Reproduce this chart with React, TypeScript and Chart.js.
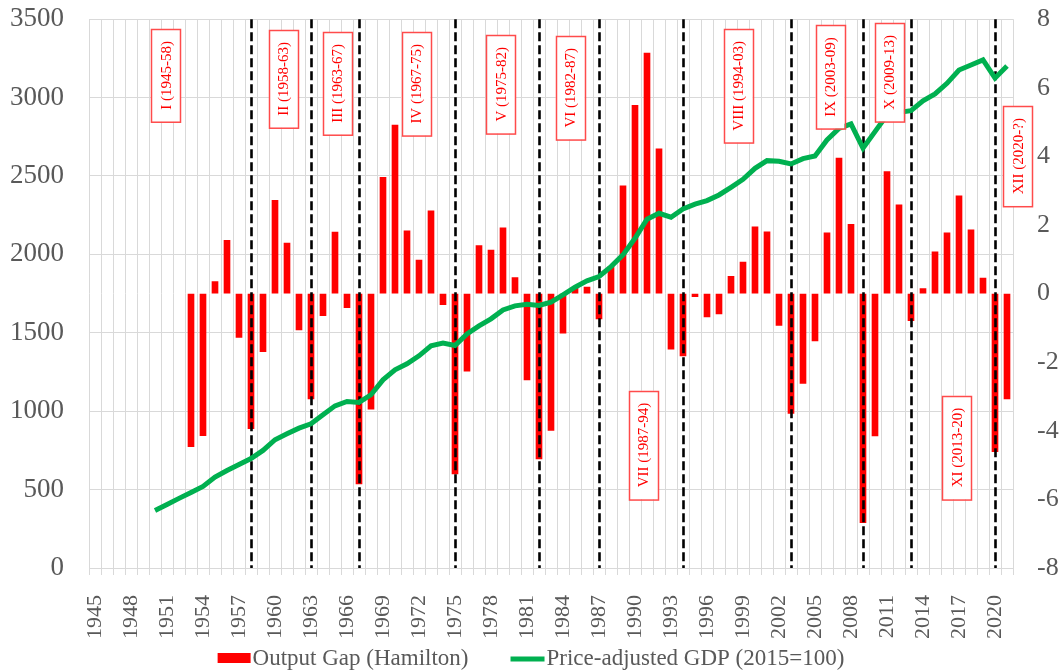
import React, { useEffect, useRef } from 'react';
import { Chart, registerables } from 'chart.js';

Chart.register(...registerables);

const years: string[] = [
  '1945','1946','1947','1948','1949','1950','1951','1952','1953','1954',
  '1955','1956','1957','1958','1959','1960','1961','1962','1963','1964',
  '1965','1966','1967','1968','1969','1970','1971','1972','1973','1974',
  '1975','1976','1977','1978','1979','1980','1981','1982','1983','1984',
  '1985','1986','1987','1988','1989','1990','1991','1992','1993','1994',
  '1995','1996','1997','1998','1999','2000','2001','2002','2003','2004',
  '2005','2006','2007','2008','2009','2010','2011','2012','2013','2014',
  '2015','2016','2017','2018','2019','2020','2021',
];

// Output gap (Hamilton), right axis
const outputGap: (number | null)[] = [
  null, null, null, null, null, null, null, null, -4.46, -4.14,
  0.35, 1.55, -1.28, -3.94, -1.69, 2.72, 1.47, -1.06, -3.07, -0.64,
  1.79, -0.41, -5.55, -3.37, 3.39, 4.91, 1.83, 0.98, 2.41, -0.32,
  -5.26, -2.26, 1.40, 1.27, 1.92, 0.47, -2.52, -4.82, -3.99, -1.15,
  0.17, 0.19, -0.74, 0.79, 3.14, 5.49, 7.01, 4.22, -1.62, -1.82,
  -0.09, -0.68, -0.59, 0.50, 0.92, 1.95, 1.80, -0.93, -3.49, -2.62,
  -1.38, 1.77, 3.95, 2.02, -6.68, -4.15, 3.56, 2.59, -0.79, 0.15,
  1.22, 1.77, 2.85, 1.86, 0.45, -4.61, -3.07,
];

// Price-adjusted GDP (2015=100), left axis
const gdp: (number | null)[] = [
  null, null, null, null, null, 367, 405, 444, 482, 520,
  580, 622, 660, 698, 750, 818, 856, 892, 920, 977,
  1034, 1062, 1056, 1105, 1200, 1264, 1302, 1353, 1417, 1434,
  1419, 1493, 1544, 1589, 1646, 1672, 1682, 1674, 1695, 1742,
  1791, 1831, 1859, 1922, 1997, 2103, 2224, 2262, 2237, 2290,
  2320, 2343, 2379, 2428, 2479, 2549, 2598, 2594, 2577, 2611,
  2628, 2730, 2804, 2832, 2677, 2783, 2889, 2906, 2917, 2980,
  3023, 3091, 3176, 3208, 3240, 3124, 3202,
];

const cycleBreaks: number[] = [1958, 1963, 1967, 1975, 1982, 1987, 1994, 2003, 2009, 2013, 2020];

const cycleLabels: string[] = [
  'I (1945-58)', 'II (1958-63)', 'III (1963-67)', 'IV (1967-75)', 'V (1975-82)',
  'VI (1982-87)', 'VII (1987-94)', 'VIII (1994-03)', 'IX (2003-09)', 'X (2009-13)',
  'XI (2013-20)', 'XII (2020-?)',
];
// label box centre (year) and top (left-axis value)
const cycleLabelYear: number[] = [1950.9, 1960.7, 1965.2, 1971.75, 1978.8, 1984.6, 1990.7, 1998.6, 2006.25, 2011.2, 2016.8, 2021.9];
const cycleLabelTop: number[] = [3437, 3431, 3418, 3418, 3399, 3393, 1131, 3437, 3462, 3475, 1099, 2946];

const leftTicks = { min: 0, max: 3500, step: 500 };
const rightTicks = { min: -8, max: 8, step: 2 };

const seriesNames = ['Output Gap (Hamilton)', 'Price-adjusted GDP (2015=100)'];

const RED = '#FF0000';
const GREEN = '#00B050';
const GRID = '#D9D9D9';
const TEXT = '#595959';
const SERIF = '"Liberation Serif", "Times New Roman", serif';

const overlayPlugin = {
  id: 'overlay',
  afterDatasetDraw(chart: any, args: any) {
    if (args.meta.type !== 'bar') return;
    const { ctx, chartArea, scales } = chart;
    const x = scales.x;
    ctx.save();
    ctx.strokeStyle = '#000000';
    ctx.lineWidth = 2.6;
    ctx.setLineDash([9, 4]);
    cycleBreaks.forEach((yr) => {
      const px = Math.round(x.getPixelForValue(yr - 1945)) + 0.5;
      ctx.beginPath();
      ctx.moveTo(px, chartArea.top);
      ctx.lineTo(px, chartArea.bottom);
      ctx.stroke();
    });
    ctx.restore();
  },
  afterDraw(chart: any) {
    const { ctx, scales } = chart;
    const x = scales.x;
    const y = scales.y;
    ctx.save();
    // cycle label boxes
    ctx.font = `15px ${SERIF}`;
    cycleLabels.forEach((lab, i) => {
      const cx = x.getPixelForValue(cycleLabelYear[i] - 1945);
      const top = y.getPixelForValue(cycleLabelTop[i]);
      const tw = ctx.measureText(lab).width;
      const h = tw + 24;
      const w = 29;
      ctx.fillStyle = '#FFFFFF';
      ctx.fillRect(cx - w / 2, top, w, h);
      ctx.strokeStyle = '#FF4B4B';
      ctx.lineWidth = 1.5;
      ctx.setLineDash([]);
      ctx.strokeRect(Math.round(cx - w / 2) + 0.5, Math.round(top) + 0.5, w, h);
      ctx.save();
      ctx.translate(cx, top + h / 2);
      ctx.rotate(-Math.PI / 2);
      ctx.fillStyle = RED;
      ctx.textAlign = 'center';
      ctx.textBaseline = 'middle';
      ctx.fillText(lab, 0, 1);
      ctx.restore();
    });

    // legend
    ctx.font = `23px ${SERIF}`;
    ctx.textBaseline = 'middle';
    ctx.textAlign = 'left';
    const sw1 = 33, sw2 = 34, gapT = 2, gapItems = 42;
    const t1 = ctx.measureText(seriesNames[0]).width;
    const t2 = ctx.measureText(seriesNames[1]).width;
    const total = sw1 + gapT + t1 + gapItems + sw2 + gapT + t2;
    let lx = chart.width / 2 - total / 2;
    const ly = chart.height - 12;
    ctx.fillStyle = RED;
    ctx.fillRect(lx, ly - 6, sw1, 10);
    lx += sw1 + gapT;
    ctx.fillStyle = TEXT;
    ctx.fillText(seriesNames[0], lx, ly);
    lx += t1 + gapItems;
    ctx.strokeStyle = GREEN;
    ctx.lineWidth = 5;
    ctx.beginPath();
    ctx.moveTo(lx, ly);
    ctx.lineTo(lx + sw2, ly);
    ctx.stroke();
    lx += sw2 + gapT;
    ctx.fillStyle = TEXT;
    ctx.fillText(seriesNames[1], lx, ly);
    ctx.restore();
  },
};

export default function App() {
  const canvasRef = useRef<HTMLCanvasElement | null>(null);

  useEffect(() => {
    const canvas = canvasRef.current;
    if (!canvas) return;
    const chart = new Chart(canvas, {
      type: 'bar',
      data: {
        labels: years,
        datasets: [
          {
            type: 'line',
            label: seriesNames[1],
            data: gdp,
            yAxisID: 'y',
            borderColor: GREEN,
            backgroundColor: GREEN,
            borderWidth: 5,
            pointRadius: 0,
            tension: 0,
            order: 0,
          } as any,
          {
            type: 'bar',
            label: seriesNames[0],
            data: outputGap,
            yAxisID: 'y1',
            backgroundColor: RED,
            borderWidth: 0,
            barThickness: 6,
            order: 1,
          } as any,
        ],
      },
      options: {
        responsive: false,
        animation: false,
        layout: { padding: { top: 19, left: 0, right: 0, bottom: 0 } },
        plugins: {
          legend: { display: false },
          tooltip: { enabled: false },
        },
        scales: {
          x: {
            type: 'category',
            offset: true,
            grid: { offset: true, color: GRID, lineWidth: 1, tickLength: 7, drawTicks: true },
            border: { color: GRID },
            ticks: {
              autoSkip: false,
              minRotation: 90,
              maxRotation: 90,
              padding: 20,
              color: TEXT,
              font: { family: SERIF, size: 22 },
              callback: (_v: any, i: number) => (i % 3 === 0 ? years[i] : ''),
            },
            afterFit: (s: any) => { s.height = 103; },
          },
          y: {
            position: 'left',
            min: leftTicks.min,
            max: leftTicks.max,
            grid: { color: GRID, drawTicks: true, tickLength: 22, tickColor: 'rgba(0,0,0,0)' },
            border: { display: false },
            ticks: {
              stepSize: leftTicks.step,
              padding: 3,
              color: TEXT,
              font: { family: SERIF, size: 27 },
              callback: (v: any) => String(v),
            },
            afterFit: (s: any) => { s.width = 89; },
          },
          y1: {
            position: 'right',
            min: rightTicks.min,
            max: rightTicks.max,
            grid: { drawOnChartArea: false, drawTicks: true, tickLength: 21, tickColor: 'rgba(0,0,0,0)' },
            border: { display: false },
            ticks: {
              stepSize: rightTicks.step,
              padding: 3,
              color: TEXT,
              font: { family: SERIF, size: 26 },
              callback: (v: any) => String(v),
            },
            afterFit: (s: any) => { s.width = 49; },
          },
        },
      },
      plugins: [overlayPlugin],
    });
    return () => chart.destroy();
  }, []);

  return (
    <div style={{ position: 'absolute', left: 0, top: 0, width: 1062, height: 671, background: '#fff' }}>
      <canvas ref={canvasRef} width={1062} height={671} />
    </div>
  );
}
